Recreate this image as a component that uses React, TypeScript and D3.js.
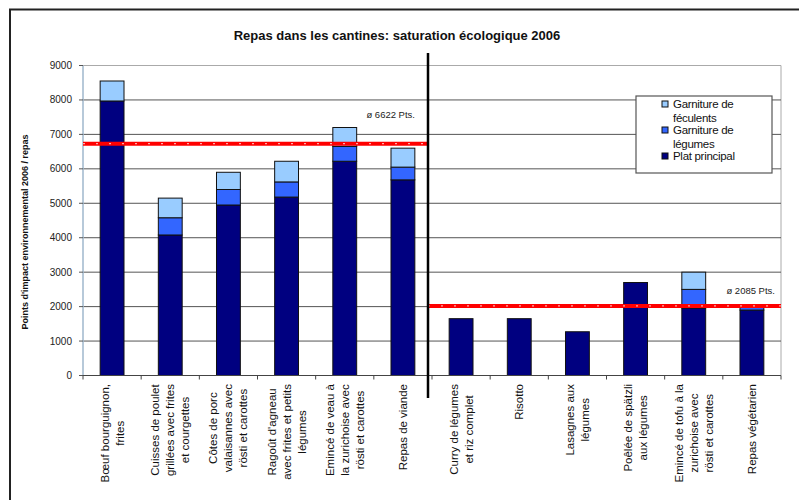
import React from 'react';
import * as d3 from 'd3';

// meals, each label already wrapped the way the original wraps it
const meals: string[][] = [
  ['Bœuf bourguignon,', 'frites'],
  ['Cuisses de poulet', 'grillées avec frites', 'et courgettes'],
  ['Côtes de porc', 'valaisannes avec', 'rösti et carottes'],
  ["Ragoût d'agneau", 'avec frites et petits', 'légumes'],
  ['Emincé de veau à', 'la zurichoise avec', 'rösti et carottes'],
  ['Repas de viande'],
  ['Curry de légumes', 'et riz complet'],
  ['Risotto'],
  ['Lasagnes aux', 'légumes'],
  ['Poêlée de spätzli', 'aux légumes'],
  ['Emincé de tofu à la', 'zurichoise avec', 'rösti et carottes'],
  ['Repas végétarien'],
];

const platPrincipal = [7970, 4080, 4950, 5180, 6220, 5680, 1650, 1650, 1270, 2700, 1960, 1900];
const garnitureLegumes = [0, 500, 450, 440, 430, 370, 0, 0, 0, 0, 540, 80];
const garnitureFeculents = [580, 570, 500, 600, 550, 550, 0, 0, 0, 0, 500, 0];

const yTicks = [0, 1000, 2000, 3000, 4000, 5000, 6000, 7000, 8000, 9000];

// averages: where the line sits, and what its label says
const avgMeat = 6730;
const avgMeatLabel = 'ø 6622 Pts.';
const avgVeg = 2020;
const avgVegLabel = 'ø 2085 Pts.';
const meatCount = 6;

const seriesKeys = ['plat', 'legumes', 'feculents'];
const seriesColors: Record<string, string> = {
  plat: '#000080',
  legumes: '#3366ff',
  feculents: '#99ccff',
};
const legendItems = [
  { key: 'feculents', lines: ['Garniture de', 'féculents'] },
  { key: 'legumes', lines: ['Garniture de', 'légumes'] },
  { key: 'plat', lines: ['Plat principal'] },
];

const FONT = "'Liberation Sans', Arial, sans-serif";
const LABEL_SIZE = 11.5;

let ctx: CanvasRenderingContext2D | null = null;
function textWidth(s: string, size: number) {
  if (!ctx) ctx = document.createElement('canvas').getContext('2d');
  if (!ctx) return s.length * size * 0.5;
  ctx.font = size + 'px ' + FONT;
  return ctx.measureText(s).width;
}

export default function App() {
  const width = 799;
  const height = 500;
  const plot = { left: 83, right: 781, top: 65.5, bottom: 375.5 };

  const idx = meals.map((_, i) => i);
  const x = d3.scaleBand<number>()
    .domain(idx)
    .range([plot.left, plot.right])
    .paddingInner(0.59)
    .paddingOuter(0.295);

  const y = d3.scaleLinear().domain([0, 9000]).range([plot.bottom, plot.top]);

  const rows = idx.map(i => ({
    i,
    plat: platPrincipal[i],
    legumes: garnitureLegumes[i],
    feculents: garnitureFeculents[i],
  }));
  const stacked = d3.stack<any>().keys(seriesKeys)(rows);

  const step = x.step();
  const boundaries = d3.range(meals.length + 1).map(k => plot.left + k * step);
  const divider = boundaries[meatCount] - 4;

  return (
    <svg width={width} height={height}
      style={{ position: 'absolute', left: 0, top: 0, background: '#fff' }}
      fontFamily={FONT}>
      {/* outer frame */}
      <path d={`M10,${height} V9.5 H${width}`} fill="none" stroke="#222" strokeWidth={2} />

      <text x={397} y={40} textAnchor="middle" fontSize={13} fontWeight="bold" fill="#111">
        Repas dans les cantines: saturation écologique 2006
      </text>

      {/* plot border */}
      <line x1={plot.left} x2={plot.right} y1={plot.top} y2={plot.top} stroke="#aaa" />
      <line x1={plot.right} x2={plot.right} y1={plot.top} y2={plot.bottom} stroke="#aaa" />

      {/* gridlines */}
      {yTicks.filter(t => t > 0 && t < 9000).map(t => (
        <line key={t} x1={plot.left} x2={plot.right} y1={y(t)} y2={y(t)} stroke="#555" />
      ))}

      {/* y axis */}
      <line x1={plot.left} x2={plot.left} y1={plot.top} y2={plot.bottom} stroke="#9fb7cc" strokeWidth={1.5} />
      {yTicks.map(t => (
        <g key={t}>
          <line x1={plot.left - 4} x2={plot.left} y1={y(t)} y2={y(t)} stroke="#555" />
          <text x={72} y={y(t) + 3.5} textAnchor="end" fontSize={10} fill="#222">{t}</text>
        </g>
      ))}
      <text transform="translate(28,232) rotate(-90)" textAnchor="middle" fontSize={9}
        fontWeight="bold" fill="#111">
        Points d'impact environnemental 2006 / repas
      </text>

      {/* bars */}
      {stacked.map(s => (
        <g key={s.key} fill={seriesColors[s.key]}>
          {s.map((d, i) => d[1] - d[0] > 0 ? (
            <rect key={i} x={x(i)} width={x.bandwidth()} y={y(d[1])}
              height={y(d[0]) - y(d[1])} stroke="#111" strokeWidth={1} />
          ) : null)}
        </g>
      ))}

      {/* x axis */}
      <line x1={plot.left} x2={plot.right} y1={plot.bottom} y2={plot.bottom} stroke="#444" />
      {boundaries.map((b, k) => (
        <line key={k} x1={b} x2={b} y1={plot.bottom} y2={plot.bottom + 4} stroke="#444" />
      ))}

      {/* category labels */}
      {meals.map((lines, i) => {
        const cx = (x(i) as number) + x.bandwidth() / 2;
        const maxW = d3.max(lines, l => textWidth(l, LABEL_SIZE)) as number;
        const cy = 384 + maxW / 2;
        return (
          <g key={i}>
            {lines.map((l, j) => {
              const lx = cx + (j - (lines.length - 1) / 2) * 15 + 4;
              return (
                <text key={j} transform={`translate(${lx},${cy}) rotate(-90)`}
                  textAnchor="middle" fontSize={LABEL_SIZE} fill="#111">{l}</text>
              );
            })}
          </g>
        );
      })}

      {/* average lines */}
      <line x1={plot.left} x2={divider} y1={y(avgMeat)} y2={y(avgMeat)} stroke="#ff0000" strokeWidth={4} />
      <line x1={plot.left} x2={divider} y1={y(avgMeat)} y2={y(avgMeat)} stroke="#ffd0d0"
        strokeWidth={1} strokeDasharray="2,11" />
      <line x1={divider} x2={plot.right} y1={y(avgVeg)} y2={y(avgVeg)} stroke="#ff0000" strokeWidth={4} />
      <line x1={divider} x2={plot.right} y1={y(avgVeg)} y2={y(avgVeg)} stroke="#ffd0d0"
        strokeWidth={1} strokeDasharray="2,11" />
      <text x={415} y={y(avgMeat) - 26} textAnchor="end" fontSize={9.5} fill="#222">{avgMeatLabel}</text>
      <text x={775} y={y(avgVeg) - 12} textAnchor="end" fontSize={9.5} fill="#222">{avgVegLabel}</text>

      {/* divider between meat and vegetarian meals */}
      <line x1={divider} x2={divider} y1={53} y2={398} stroke="#000" strokeWidth={2.5} />

      {/* legend */}
      <rect x={636} y={96} width={136} height={77} fill="#fff" stroke="#555" strokeWidth={1.2} />
      {legendItems.map((item, k) => {
        const cy = 104 + k * 26;
        return (
          <g key={item.key}>
            <rect x={662} y={cy - 3} width={6} height={6} fill={seriesColors[item.key]} stroke="#111" />
            {item.lines.map((l, j) => (
              <text key={j} x={673} y={cy + 4 + j * 13.5} fontSize={11.5} fill="#111"
                letterSpacing={-0.3}>{l}</text>
            ))}
          </g>
        );
      })}
    </svg>
  );
}
